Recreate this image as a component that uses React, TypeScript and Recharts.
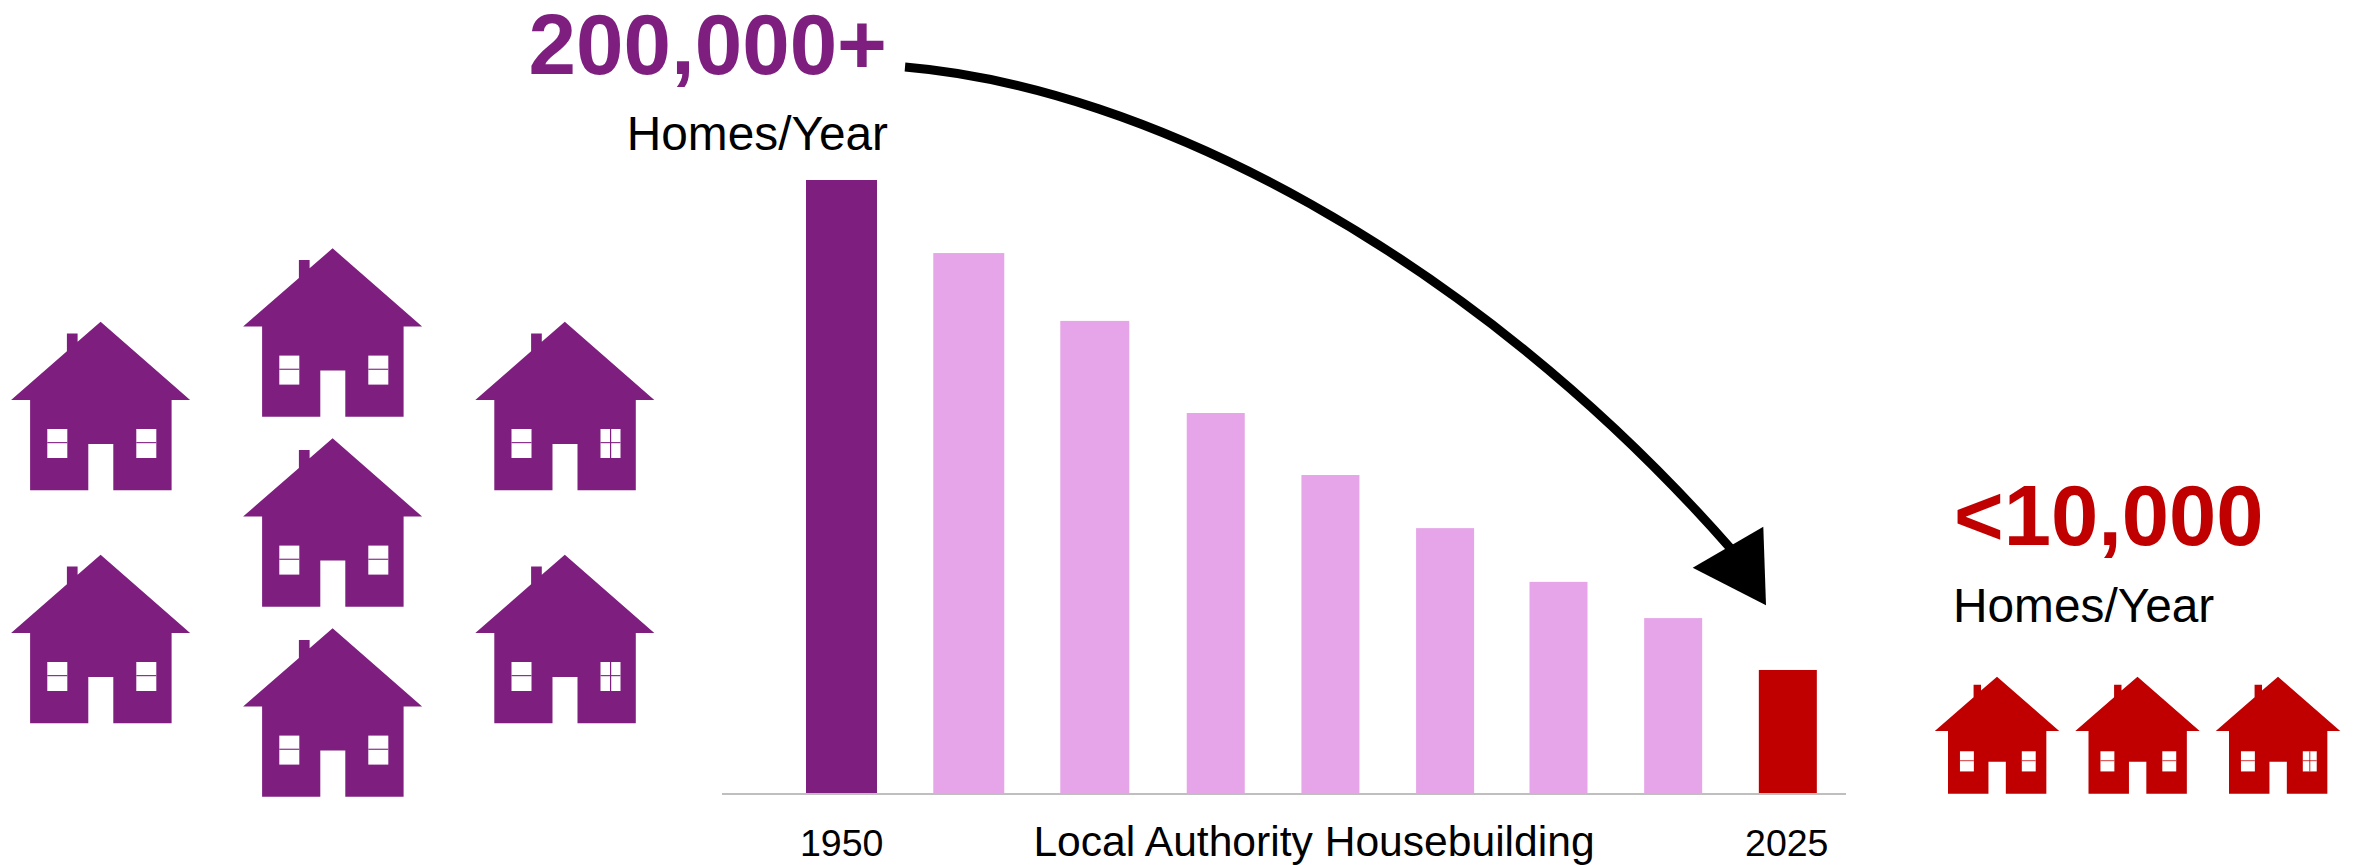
import React from "react";
import { BarChart, Bar, XAxis, YAxis, Customized } from "recharts";

const years = [1950, 1960.1, 1970.1, 1979.7, 1988.8, 1997.9, 2006.9, 2016, 2025.1];
const homes = [200000, 176200, 154100, 124100, 103900, 86600, 69100, 57300, 40400];
const tickYears = [1950, 2025];
const chartData = years.map((year, i) => ({ year, homes: homes[i] }));

const PURPLE = "#7E1F80";
const PINK = "#E5A5E8";
const RED = "#C00000";
const FONT = '"Liberation Sans", Arial, sans-serif';
const WIDE = 71;
const MID = 69;
const NARROW = 58;

const purpleHouses = [
  [100.6, 321.7, 0],
  [332.6, 248.3, 0],
  [332.6, 438.3, 0],
  [332.6, 628.3, 0],
  [564.8, 321.7, 1],
  [100.6, 554.7, 0],
  [564.8, 554.7, 1],
];
const redHouses = [
  [1997, 676.7, 0],
  [2137.5, 676.7, 0],
  [2278, 676.7, 1],
];

function House({ x, y, s, color, cross }: { x: number; y: number; s: number; color: string; cross: number }) {
  const body =
    "M0 0 L89.5 78.3 L71 78.3 L71 168.5 L12.7 168.5 L12.7 122.3 L-12.3 122.3 L-12.3 168.5 L-70.5 168.5 L-70.5 78.3 L-89.5 78.3 L-33.7 29.6 L-33.7 11.7 L-23 11.7 L-23 20 Z";
  return (
    <g transform={`translate(${x} ${y}) scale(${s})`}>
      <path d={body} fill={color} />
      <rect x={-53.3} y={107.3} width={20} height={29} fill="#fff" />
      <rect x={35.7} y={107.3} width={20} height={29} fill="#fff" />
      <rect x={-53.3} y={120.4} width={20} height={1.1} fill={color} />
      <rect x={35.7} y={120.4} width={20} height={1.1} fill={color} />
      {cross ? <rect x={45.2} y={107.3} width={1.2} height={29} fill={color} /> : null}
    </g>
  );
}

function Overlay() {
  return (
    <g>
      {purpleHouses.map((h, i) => (
        <House key={i} x={h[0]} y={h[1]} s={1} color={PURPLE} cross={h[2]} />
      ))}
      {redHouses.map((h, i) => (
        <House key={i} x={h[0]} y={h[1]} s={0.695} color={RED} cross={h[2]} />
      ))}
      <text x={887} y={73.5} textAnchor="end" fontFamily={FONT} fontWeight={700} fontSize={85.4} fill={PURPLE}>200,000+</text>
      <text x={888} y={150} textAnchor="end" fontFamily={FONT} fontSize={47.8} fill="#000">Homes/Year</text>
      <text x={1954} y={545} fontFamily={FONT} fontWeight={700} fontSize={85} fill={RED}>&lt;10,000</text>
      <text x={1953} y={621.5} fontFamily={FONT} fontSize={47.8} fill="#000">Homes/Year</text>
      <text x={1314} y={856} textAnchor="middle" fontFamily={FONT} fontSize={42.6} fill="#000">Local Authority Housebuilding</text>
      <path d="M905 67 C1145 87 1470 251 1732 550" fill="none" stroke="#000" strokeWidth={9} />
      <path d="M1763.3 526.7 L1692.7 567.7 L1766 605.3 Z" fill="#000" />
    </g>
  );
}

function VariableBar(props: any) {
  const { x, width, y, height, index } = props;
  const w = index < 2 ? WIDE : index === 2 ? MID : NARROW;
  const fill = index === 0 ? PURPLE : index === years.length - 1 ? RED : PINK;
  return <rect x={x + width / 2 - w / 2} y={y} width={w} height={height} fill={fill} />;
}

export default function App() {
  return (
    <div style={{ position: "absolute", left: 0, top: 0, width: 2354, height: 865, overflow: "hidden", background: "#fff" }}>
      <BarChart width={2354} height={865} data={chartData} margin={{ top: 180, left: 722, right: 508, bottom: 0 }}>
        <XAxis
          dataKey="year"
          type="number"
          domain={[1940.5, 2029.7]}
          ticks={tickYears}
          interval={0}
          height={71}
          tickLine={false}
          tickMargin={29}
          stroke="#bfbfbf"
          strokeWidth={2}
          tick={{ fill: "#000", fontSize: 37.5, fontFamily: FONT }}
        />
        <YAxis hide domain={[0, 200000]} width={0} />
        <Bar dataKey="homes" barSize={WIDE} shape={VariableBar} isAnimationActive={false} />
        <Customized component={Overlay} />
      </BarChart>
    </div>
  );
}
